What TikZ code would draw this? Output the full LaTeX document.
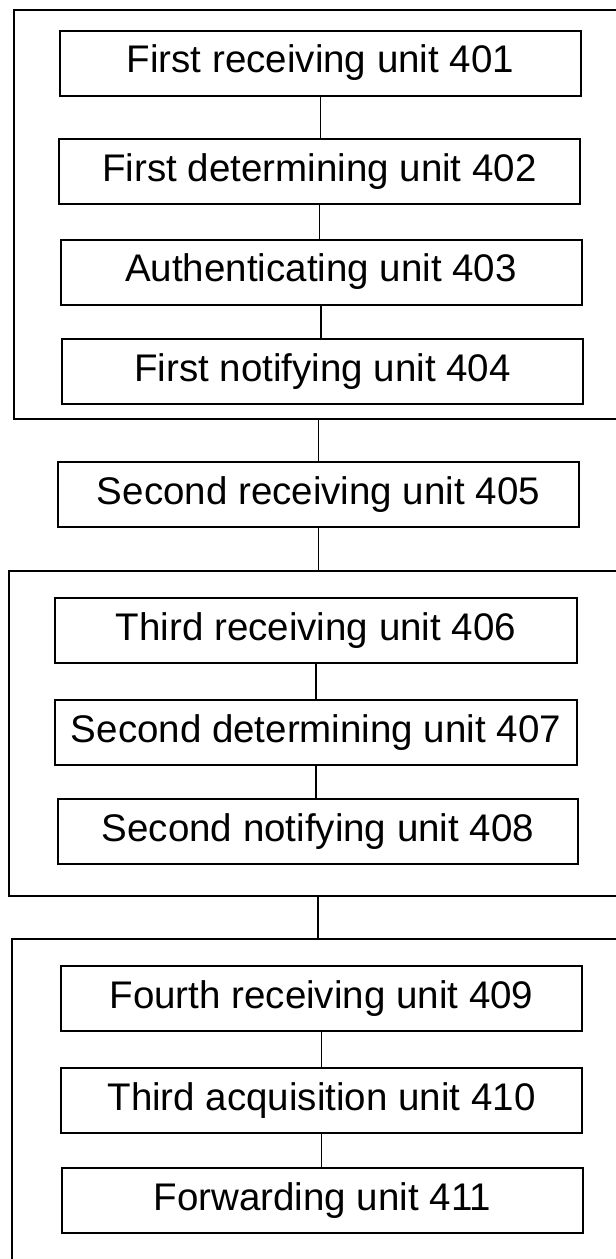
\documentclass[tikz,border=0pt]{standalone}
\usepackage{fontspec}
\setmainfont{Liberation Sans}
\begin{document}
\begin{tikzpicture}[x=1pt,y=-1pt,
  unitbox/.style={draw, line width=2pt, minimum width=521pt, minimum height=65pt, inner sep=0pt, font=\fontsize{38.5}{44}\selectfont},
  groupbox/.style={draw, line width=2pt, inner sep=0pt, anchor=north west},
  link/.style={line width=1.7pt}]
\useasboundingbox (0,0) rectangle (616,1259);
\clip (0,0) rectangle (616,1259);
% group boxes (right and bottom edges run off the sheet)
\node[groupbox, minimum width=660pt, minimum height=408.7pt] (g1) at (12.7,9.3) {};
\node[groupbox, minimum width=660pt, minimum height=325pt] (g2) at (8,570) {};
\node[groupbox, minimum width=660pt, minimum height=400pt] (g3) at (11,938) {};
% units
\node[unitbox] (n401) at (320.5,63) {First receiving unit 401};
\node[unitbox] (n402) at (319.5,171.5) {First determining unit 402};
\node[unitbox] (n403) at (321,272) {Authenticating unit 403};
\node[unitbox] (n404) at (322.5,371.5) {First notifying unit 404};
\node[unitbox] (n405) at (318.5,494.5) {Second receiving unit 405};
\node[unitbox, minimum width=522pt] (n406) at (316,630.5) {Third receiving unit 406};
\node[unitbox, minimum width=522pt] (n407) at (316,732.5) {Second determining unit 407};
\node[unitbox, minimum width=520pt] (n408) at (318,831.5) {Second notifying unit 408};
\node[unitbox] (n409) at (321.5,998.5) {Fourth receiving unit 409};
\node[unitbox] (n410) at (321.5,1100.5) {Third acquisition unit 410};
\node[unitbox] (n411) at (322.5,1200.5) {Forwarding unit 411};
% connectors
\draw[link] (n401.south) -- (n401.south |- n402.north);
\draw[link] (n402.south) -- (n402.south |- n403.north);
\draw[link] (n403.south) -- (n403.south |- n404.north);
\draw[link] (n405.north |- g1.south) -- (n405.north);
\draw[link] (n405.south) -- (n405.south |- g2.north);
\draw[link] (n406.south) -- (n406.south |- n407.north);
\draw[link] (n407.south) -- (n407.south |- n408.north);
\draw[link] (n408.south |- g2.south) -- (n408.south |- g3.north);
\draw[link] (n409.south) -- (n409.south |- n410.north);
\draw[link] (n410.south) -- (n410.south |- n411.north);
\end{tikzpicture}
\end{document}
